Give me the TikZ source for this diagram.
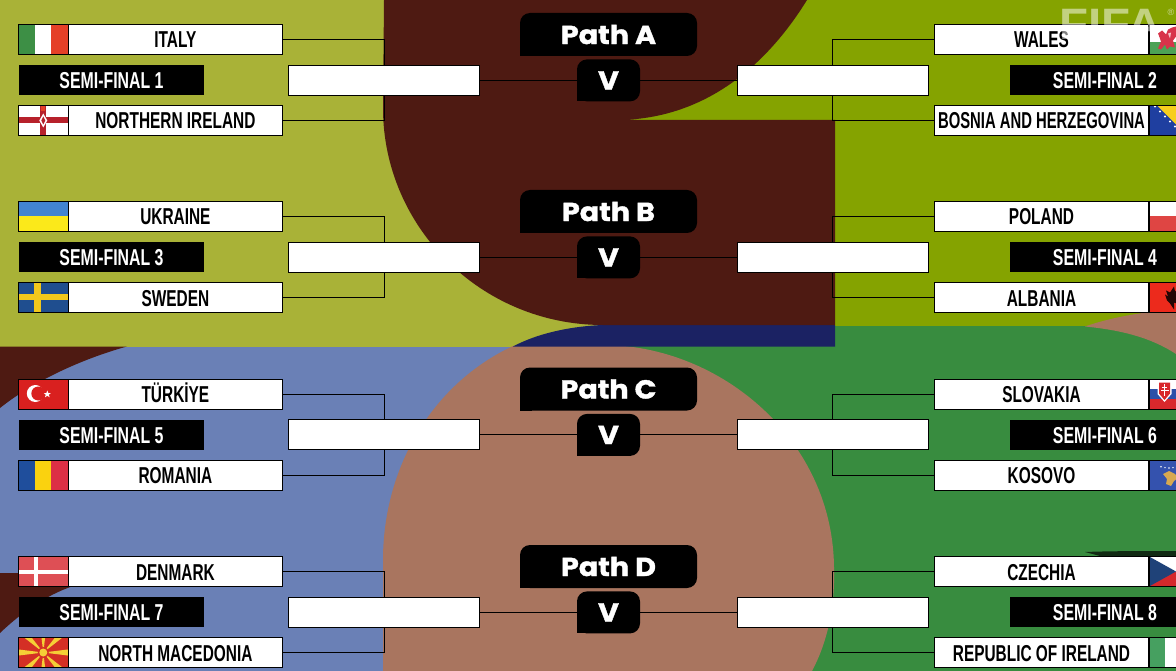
\documentclass[tikz,border=0pt]{standalone}
\usepackage{fontspec}
\setmainfont{Liberation Sans}
\newfontfamily\namefont[FakeStretch=0.67]{Liberation Sans Bold}
\newfontfamily\namefontb[FakeStretch=0.645]{Liberation Sans Bold}
\newfontfamily\semifont[FakeStretch=0.69]{Liberation Sans Bold}
\newfontfamily\pathfont[FakeStretch=1.1,FakeBold=1.5]{Poppins Bold}
\newfontfamily\logofont[FakeStretch=1.08]{Liberation Sans Bold}
\definecolor{olivebg}{HTML}{A9B237}
\definecolor{greenbg}{HTML}{85A300}
\definecolor{bluebg}{HTML}{6A80B6}
\definecolor{darkgreen}{HTML}{388C3F}
\definecolor{salmon}{HTML}{A9755F}
\definecolor{brownbg}{HTML}{4E1A12}
\definecolor{navybg}{HTML}{1B2263}
\definecolor{itg}{HTML}{3D8F45}\definecolor{itr}{HTML}{E54028}
\definecolor{nir}{HTML}{B7212B}
\definecolor{uab}{HTML}{4284D0}\definecolor{uay}{HTML}{FBE91A}
\definecolor{seb}{HTML}{1F4E8F}\definecolor{sey}{HTML}{F2C81C}
\definecolor{trr}{HTML}{D9201F}
\definecolor{rob}{HTML}{1F4E9C}\definecolor{roy}{HTML}{FAD20F}\definecolor{ror}{HTML}{DC2F45}
\definecolor{dkr}{HTML}{DE4F55}
\definecolor{mkr}{HTML}{D42F25}\definecolor{mky}{HTML}{F5CF36}
\definecolor{wag}{HTML}{4CA255}\definecolor{war}{HTML}{D8334A}
\definecolor{bab}{HTML}{1F3FA0}\definecolor{bay}{HTML}{F7CE1E}
\definecolor{plr}{HTML}{DF4543}
\definecolor{alr}{HTML}{EC2A1C}
\definecolor{skb}{HTML}{2B50A8}\definecolor{skr}{HTML}{D8282C}
\definecolor{xkb}{HTML}{3452AE}\definecolor{xky}{HTML}{D7A850}
\definecolor{czb}{HTML}{1F4278}\definecolor{czr}{HTML}{D5282B}
\definecolor{ieg}{HTML}{46A060}
\tikzset{
  namebox/.style={draw=black,fill=white,line width=1pt,minimum width=214.5pt,minimum height=30pt,inner sep=0pt,font=\namefont\fontsize{23}{25}\selectfont,text=black,text height=17pt,text depth=0pt},
  semibar/.style={fill=black,minimum height=30pt,inner sep=0pt,text=white,font=\semifont\fontsize{23}{25}\selectfont,text height=17pt,text depth=0pt},
  winbox/.style={draw=black,fill=white,line width=1pt,minimum width=191pt,minimum height=30pt,inner sep=0pt},
  pathbadge/.style={fill=black,rounded corners=10pt,minimum width=177pt,minimum height=43pt,inner sep=0pt,text=white,font=\pathfont\fontsize{26}{28}\selectfont},
  vbadge/.style={fill=black,rounded corners=10pt,minimum width=63pt,minimum height=42pt,inner sep=0pt,text=white,font=\pathfont\fontsize{26}{28}\selectfont},
  link/.style={draw=black,line width=1pt},
  flagline/.style={draw=black,line width=1pt}
}
% flags: local frame 50 x 30
\newcommand\flagIT{\fill[white](0,0)rectangle(50,30);\fill[itg](0,0)rectangle(17,30);\fill[itr](33,0)rectangle(50,30);}
\newcommand\flagNI{\fill[white](0,0)rectangle(50,30);\fill[nir](22,0)rectangle(28,30);\fill[nir](0,12)rectangle(50,18);\fill[white](25,8)--(29,15)--(25,22)--(21,15)--cycle;\fill[nir](25,11)--(27,15)--(25,19)--(23,15)--cycle;\fill[itr](23,1)rectangle(27,6);}
\newcommand\flagUA{\fill[uab](0,0)rectangle(50,15);\fill[uay](0,15)rectangle(50,30);}
\newcommand\flagSE{\fill[seb](0,0)rectangle(50,30);\fill[sey](16,0)rectangle(23,30);\fill[sey](0,12)rectangle(50,18);}
\newcommand\flagTR{\fill[trr](0,0)rectangle(50,30);\fill[white](17,14.5)circle(8.5);\fill[trr](20,14.5)circle(7);\fill[white](29,11.5)--(30,14)--(32.6,14)--(30.5,15.7)--(31.3,18.3)--(29,16.8)--(26.7,18.3)--(27.5,15.7)--(25.4,14)--(28,14)--cycle;}
\newcommand\flagRO{\fill[rob](0,0)rectangle(17,30);\fill[roy](17,0)rectangle(33,30);\fill[ror](33,0)rectangle(50,30);}
\newcommand\flagDK{\fill[dkr](0,0)rectangle(50,30);\fill[white](16,0)rectangle(20,30);\fill[white](0,13)rectangle(50,17);}
\newcommand\flagMK{\fill[mkr](0,0)rectangle(50,30);\foreach \a in {0,45,90,135,180,225,270,315}{\fill[mky](25,15)--({25+40*cos(\a-7)},{15+40*sin(\a-7)})--({25+40*cos(\a+7)},{15+40*sin(\a+7)})--cycle;}\fill[mkr](25,15)circle(5.5);\fill[mky](25,15)circle(4);}
\newcommand\flagWA{\fill[white](0,0)rectangle(50,18);\fill[wag](0,18)rectangle(50,30);\fill[war](9,9)--(13,6)--(17,10)--(19,5)--(23,3)--(27,2)--(27,12)--(24,16)--(26,23)--(21,22)--(18,25)--(16,20)--(12,25)--(9,24)--(12,17)--cycle;\fill[white!70!war](19,9)--(22,8)--(21,14)--cycle;}
\newcommand\flagBA{\fill[bab](0,0)rectangle(50,30);\fill[bay](8,0)--(38,0)--(38,30)--cycle;\foreach \k in {0,5,...,25}{\fill[white]({6+\k},{1+\k})circle(1.2);}}
\newcommand\flagPL{\fill[white](0,0)rectangle(50,15);\fill[plr](0,15)rectangle(50,30);}
\newcommand\flagAL{\fill[alr](0,0)rectangle(50,30);\fill[black!85!alr](25,4)--(26,9)--(30,6)--(29,12)--(32,13)--(29,17)--(30,22)--(25,20)--(25,27)--(21,21)--(18,18)--(16,12)--(19,14)--(17,8)--(21,10)--cycle;}
\newcommand\flagSK{\fill[white](0,0)rectangle(50,10);\fill[skb](0,10)rectangle(50,20);\fill[skr](0,20)rectangle(50,30);\fill[white](8.5,2)--(22.5,2)--(22.5,15)--(15.5,23)--(8.5,15)--cycle;\fill[skr](10,3.5)--(21,3.5)--(21,14.5)--(15.5,21)--(10,14.5)--cycle;\fill[white](14.8,5)rectangle(16.2,17);\fill[white](13,7.5)rectangle(18,8.8);\fill[white](11.5,10.5)rectangle(19.5,12);}
\newcommand\flagXK{\fill[xkb](0,0)rectangle(50,30);\foreach \k in {12,16,20,24,28}{\fill[white](\k,{6-0.02*(\k-20)*(\k-20)+2})circle(.8);}\fill[xky](14,14)--(20,11)--(26,14)--(29,18)--(25,21)--(22,26)--(17,24)--(18,19)--cycle;}
\newcommand\flagCZ{\fill[white](0,0)rectangle(50,15);\fill[czr](0,15)rectangle(50,30);\fill[czb](0,0)--(27,15)--(0,30)--cycle;}
\newcommand\flagIE{\fill[white](0,0)rectangle(50,30);\fill[ieg](0,0)rectangle(16,30);}
\newcommand\putflag[3]{\begin{scope}[shift={(#1,#2)}]\begin{scope}\clip(0,0)rectangle(50,30);#3\end{scope}\draw[flagline](0,0)rectangle(50,30);\end{scope}}
\newcommand\lefttie[7]{%
  \node[namebox] (#1n1) at (175.4,{39.5+#2}) {#3};
  \putflag{18.3}{24.5+#2}{#4}
  \node[semibar,minimum width=185pt] (#1s) at (111.5,{80+#2}) {#5};
  \node[namebox] (#1n2) at (175.4,{120.5+#2}) {#6};
  \putflag{18.3}{105.5+#2}{#7}
  \node[winbox] (#1w) at (384,{80.4+#2}) {};
  \draw[link] (#1n1.east) -| (#1w.north);
  \draw[link] (#1n2.east) -| (#1w.south);
}
\newcommand\righttie[7]{%
  \node[namebox] (#1n1) at (1041.5,{39.5+#2}) {#3};
  \putflag{1149}{24.5+#2}{#4}
  \node[semibar,minimum width=190pt] (#1s) at (1105,{80+#2}) {#5};
  \node[namebox] (#1n2) at (1041.5,{120.5+#2}) {#6};
  \putflag{1149}{105.5+#2}{#7}
  \node[winbox] (#1w) at (832.7,{80.4+#2}) {};
  \draw[link] (#1n1.west) -| (#1w.north);
  \draw[link] (#1n2.west) -| (#1w.south);
}
\newcommand\pathmid[4]{%
  \node[pathbadge] (#1p) at (608.5,{34.5+#3}) {#4};
  \fill[black] (520,{44+#3}) rectangle (532,{56+#3});
  \node[vbadge] (#1v) at (608.5,{80.4+#3}) {V};
  \fill[black] (577,{89+#3}) rectangle (589,{101.4+#3});
  \draw[link] (#1lw) -- (#1v);
  \draw[link] (#1v) -- (#1rw);
}
\begin{document}
\begin{tikzpicture}[x=1pt,y=-1pt]
\useasboundingbox (0,0) rectangle (1176,671);
\clip (0,0) rectangle (1176,671);
% background
\fill[olivebg] (0,0) rectangle (620,347);
\fill[greenbg] (600,0) rectangle (1176,326);
\fill[bluebg] (0,346.5) rectangle (600,671);
\fill[darkgreen] (600,326) rectangle (1176,671);
\fill[salmon] (1085,326.5) .. controls (1115,316) and (1150,311) .. (1176,310) -- (1176,354) .. controls (1150,337) and (1120,330) .. (1085,326.5) -- cycle;
\fill[salmon] (383,671) -- (383,560) .. controls (383,470) and (430,385) .. (513,346) -- (603,345) .. controls (720,345) and (835,440) .. (834,571) .. controls (835,610) and (826,645) .. (812,671) -- cycle;
\fill[brownbg] (0,346.5) -- (127,346.5) .. controls (85,358) and (35,380) .. (0,408) -- cycle;
\fill[brownbg] (0,573) -- (60,573) -- (80,584) .. controls (50,592) and (22,612) .. (0,633) -- cycle;
\fill[black!70!darkgreen] (1085,552) .. controls (1110,551) and (1150,551) .. (1176,551) -- (1176,556) -- (1100,556) -- cycle;
\fill[navybg] (513,346.5) .. controls (540,332) and (575,326) .. (603,325) -- (835,325) -- (835,346.5) -- cycle;
\fill[brownbg] (384,0) -- (383,108) .. controls (383,227) and (481,325) .. (603,325) -- (835,325) -- (835,120) -- (620,120) .. controls (710,118) and (770,60) .. (807,0) -- cycle;
% ties
\lefttie{al}{0}{ITALY}{\flagIT}{SEMI-FINAL 1}{NORTHERN IRELAND}{\flagNI}
\righttie{ar}{0}{WALES}{\flagWA}{SEMI-FINAL 2}{\namefontb BOSNIA AND HERZEGOVINA}{\flagBA}
\pathmid{a}{0}{0}{Path A}
\lefttie{bl}{177}{UKRAINE}{\flagUA}{SEMI-FINAL 3}{SWEDEN}{\flagSE}
\righttie{br}{177}{POLAND}{\flagPL}{SEMI-FINAL 4}{ALBANIA}{\flagAL}
\pathmid{b}{0}{177}{Path B}
\lefttie{cl}{354.5}{TÜRKİYE}{\flagTR}{SEMI-FINAL 5}{ROMANIA}{\flagRO}
\righttie{cr}{354.5}{SLOVAKIA}{\flagSK}{SEMI-FINAL 6}{KOSOVO}{\flagXK}
\pathmid{c}{0}{354.5}{Path C}
\lefttie{dl}{532}{DENMARK}{\flagDK}{SEMI-FINAL 7}{NORTH MACEDONIA}{\flagMK}
\righttie{dr}{532}{CZECHIA}{\flagCZ}{SEMI-FINAL 8}{REPUBLIC OF IRELAND}{\flagIE}
\pathmid{d}{0}{532}{Path D}
% watermark
\node[text=white,text opacity=.5,inner sep=0pt,anchor=base west,font=\logofont\fontsize{44}{46}\selectfont] (logo) at (1059,40) {FIFA};
\node[text=white,text opacity=.6,inner sep=0pt,font=\fontsize{9}{10}\selectfont] (reg) at (1171,12) {®};
\end{tikzpicture}
\end{document}
